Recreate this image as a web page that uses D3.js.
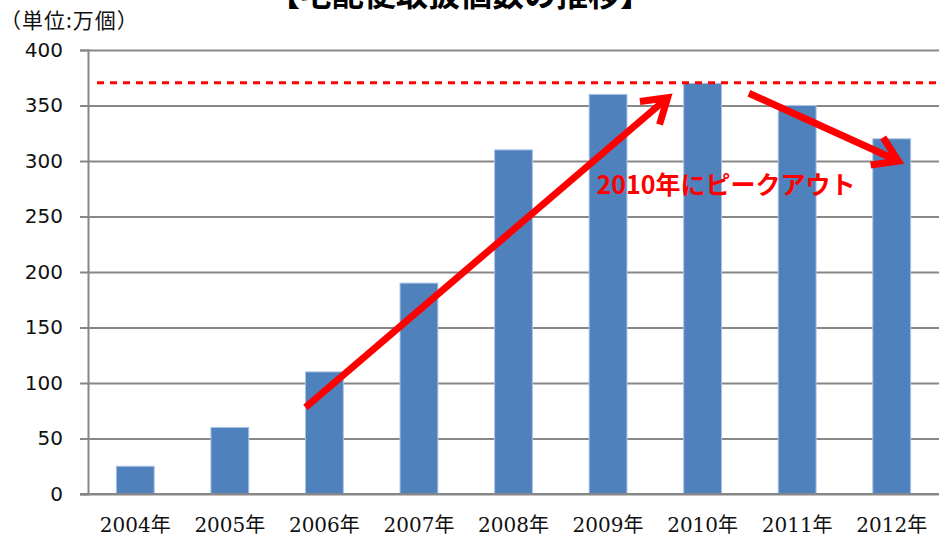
<!DOCTYPE html>
<html>
<head>
<meta charset="utf-8">
<script src="https://cdn.jsdelivr.net/npm/d3@7.9.0/dist/d3.min.js"></script>
<style>
  body { margin: 0; background: #fff; }
  svg { display: block; }
</style>
</head>
<body>
<div id="chart"></div>
<script>
const title = '【宅配便取扱個数の推移】';
const unitLabel = '（単位:万個）';
const years = ['2004年', '2005年', '2006年', '2007年', '2008年', '2009年', '2010年', '2011年', '2012年'];
const parcels = [25, 60, 110, 190, 310, 360, 370, 350, 320];
const yTicks = [0, 50, 100, 150, 200, 250, 300, 350, 400];
const peakValue = 370;
const peakNote = '2010年にピークアウト';
// arrows: [category index, value] start -> end
const arrowStarts = [[1.8, 78], [6.49, 361]];
const arrowEnds = [[5.63, 357], [8.07, 300]];

const width = 939;
const height = 536;
const margin = { top: 50, right: 0, bottom: 42, left: 88 };

const svg = d3.select('#chart')
  .append('svg')
  .attr('width', width)
  .attr('height', height);

const xScale = d3.scaleBand()
  .domain(years)
  .range([margin.left, width - margin.right])
  .paddingInner(0.6)
  .paddingOuter(0.3);

const yScale = d3.scaleLinear()
  .domain([0, 400])
  .range([height - margin.bottom, margin.top]);

// index along the category axis -> pixel (centre of band i)
const xIndex = (i) => xScale(years[0]) + xScale.bandwidth() / 2 + i * xScale.step();

// ----- Gridlines + y axis -----
const yAxis = d3.axisLeft(yScale)
  .tickValues(yTicks)
  .tickSize(8)
  .tickPadding(17);

const gy = svg.append('g')
  .attr('transform', `translate(${margin.left},0)`)
  .call(yAxis);
gy.select('.domain').attr('stroke', '#878787').attr('stroke-width', 2);
gy.selectAll('.tick line')
  .attr('x2', width - margin.left)
  .attr('x1', -8)
  .attr('stroke', '#878787')
  .attr('stroke-width', 2);
gy.selectAll('.tick text')
  .attr('font-family', 'DejaVu Sans, sans-serif')
  .attr('font-size', 20)
  .attr('fill', '#111');

// ----- Bars -----
svg.append('g')
  .selectAll('rect')
  .data(parcels)
  .join('rect')
  .attr('x', (d, i) => xScale(years[i]))
  .attr('y', (d) => yScale(d))
  .attr('width', xScale.bandwidth())
  .attr('height', (d) => yScale(0) - yScale(d))
  .attr('fill', '#4F81BD')
  .attr('stroke', '#A9C3E4')
  .attr('stroke-width', 1);

// redraw the baseline on top of the bars
svg.append('line')
  .attr('x1', margin.left - 8)
  .attr('x2', width)
  .attr('y1', yScale(0))
  .attr('y2', yScale(0))
  .attr('stroke', '#878787')
  .attr('stroke-width', 2);

// ----- X labels -----
svg.append('g')
  .selectAll('text')
  .data(years)
  .join('text')
  .attr('x', (d) => xScale(d) + xScale.bandwidth() / 2)
  .attr('y', 532)
  .attr('text-anchor', 'middle')
  .attr('font-family', 'DejaVu Serif, Liberation Serif, Noto Sans CJK JP, serif')
  .attr('font-size', 20)
  .attr('fill', '#111')
  .text((d) => d);

// ----- Peak dashed line -----
svg.append('line')
  .attr('x1', margin.left + 9)
  .attr('x2', width)
  .attr('y1', yScale(peakValue) - 0.5)
  .attr('y2', yScale(peakValue) - 0.5)
  .attr('stroke', '#FF0000')
  .attr('stroke-width', 3)
  .attr('stroke-dasharray', '7,6');

// ----- Arrows -----
const arrowG = svg.append('g')
  .attr('stroke', '#FF0000')
  .attr('stroke-width', 7)
  .attr('fill', 'none')
  .attr('stroke-linecap', 'butt')
  .attr('stroke-linejoin', 'miter');

arrowStarts.forEach((s, k) => {
  const e = arrowEnds[k];
  const x0 = xIndex(s[0]), y0 = yScale(s[1]);
  const x1 = xIndex(e[0]), y1 = yScale(e[1]);
  const ang = Math.atan2(y1 - y0, x1 - x0);
  const head = 28;
  const spread = Math.PI / 5.5;
  arrowG.append('line')
    .attr('x1', x0).attr('y1', y0)
    .attr('x2', x1 - Math.cos(ang) * 3).attr('y2', y1 - Math.sin(ang) * 3);
  arrowG.append('path')
    .attr('d', d3.line()([
      [x1 - head * Math.cos(ang - spread), y1 - head * Math.sin(ang - spread)],
      [x1, y1],
      [x1 - head * Math.cos(ang + spread), y1 - head * Math.sin(ang + spread)],
    ]));
});

// ----- Annotation text -----
svg.append('text')
  .attr('x', 726)
  .attr('y', 194)
  .attr('text-anchor', 'middle')
  .attr('font-family', '"Noto Sans CJK JP", sans-serif')
  .attr('font-weight', 'bold')
  .attr('font-size', 25)
  .attr('fill', '#FF0000')
  .text(peakNote);

// ----- Title and unit -----
svg.append('text')
  .attr('x', 460)
  .attr('y', 6)
  .attr('text-anchor', 'middle')
  .attr('font-family', '"Noto Sans CJK JP", sans-serif')
  .attr('font-weight', 'bold')
  .attr('font-size', 32)
  .attr('fill', '#000')
  .text(title);

svg.append('text')
  .attr('x', 0)
  .attr('y', 28)
  .attr('font-family', '"Noto Sans CJK JP", sans-serif')
  .attr('font-size', 21)
  .attr('letter-spacing', 1)
  .attr('fill', '#111')
  .text(unitLabel);
</script>
</body>
</html>
